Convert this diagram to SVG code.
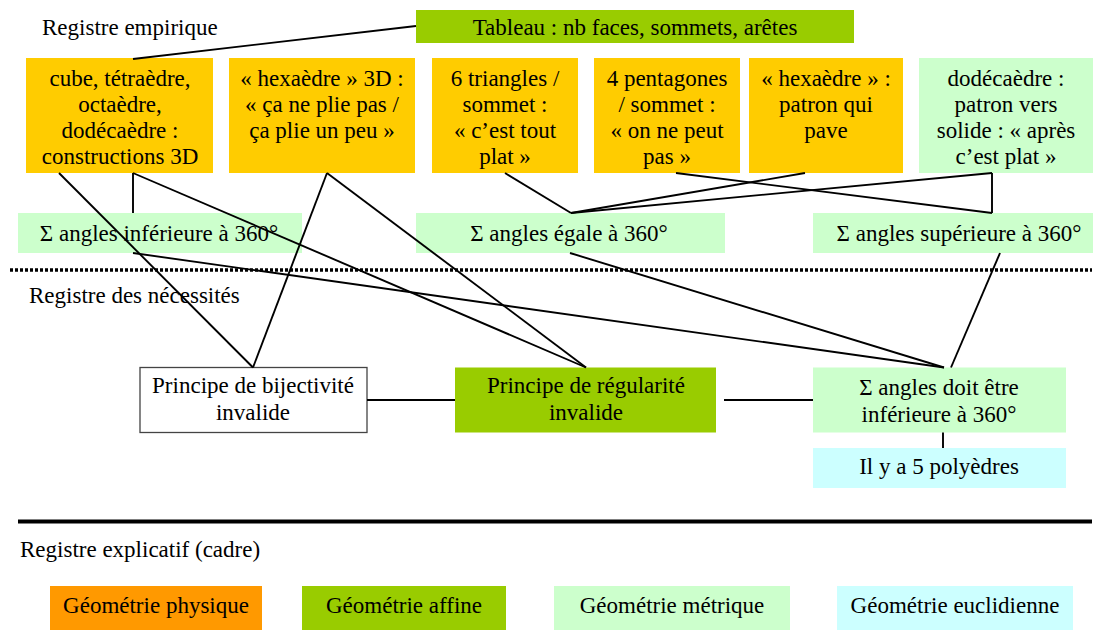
<svg xmlns="http://www.w3.org/2000/svg" width="1094" height="630" viewBox="0 0 1094 630" font-family="'Liberation Serif', 'Times New Roman', Times, serif" font-size="23">
<style>
text{fill:#000}
.c{text-anchor:middle}
.y{fill:#FFCC00}
.g{fill:#99CC00}
.m{fill:#CCFFCC}
.e{fill:#CCFFFF}
.o{fill:#FF9900}
.w{fill:#fff;stroke:#444;stroke-width:1.3}
#connectors line{stroke:#000;stroke-width:1.9;fill:none}
</style>
<rect width="1094" height="630" fill="#fff"/>

<!-- register labels and separators -->
<text x="42" y="35">Registre empirique</text>
<line x1="10" y1="270" x2="1092" y2="270" stroke="#000" stroke-width="3.5" stroke-dasharray="3 2"/>
<text x="29" y="303">Registre des nécessités</text>
<line x1="18" y1="521.5" x2="1092" y2="521.5" stroke="#000" stroke-width="4"/>
<text x="20" y="557">Registre explicatif (cadre)</text>

<g id="tableau"><rect class="g" x="416" y="10" width="438" height="33"/><text class="c" x="635" y="35">Tableau : nb faces, sommets, arêtes</text></g>

<g id="box1"><rect class="y" x="26" y="58" width="187" height="115"/>
<text class="c" x="120" y="85.5">cube, tétraèdre,</text><text class="c" x="120" y="111.5">octaèdre,</text><text class="c" x="120" y="137.5">dodécaèdre :</text><text class="c" x="120" y="163.5">constructions 3D</text></g>

<g id="box2"><rect class="y" x="229" y="58" width="186" height="115"/>
<text class="c" x="322" y="85.5">« hexaèdre » 3D :</text><text class="c" x="322" y="111.5">« ça ne plie pas /</text><text class="c" x="322" y="137.5">ça plie un peu »</text></g>

<g id="box3"><rect class="y" x="432" y="58" width="146" height="115"/>
<text class="c" x="505" y="85.5">6 triangles /</text><text class="c" x="505" y="111.5">sommet :</text><text class="c" x="505" y="137.5">« c’est tout</text><text class="c" x="505" y="163.5">plat »</text></g>

<g id="box4"><rect class="y" x="594" y="58" width="146" height="115"/>
<text class="c" x="667" y="85.5">4 pentagones</text><text class="c" x="667" y="111.5">/ sommet :</text><text class="c" x="667" y="137.5">« on ne peut</text><text class="c" x="667" y="163.5">pas »</text></g>

<g id="box5"><rect class="y" x="749" y="58" width="154" height="115"/>
<text class="c" x="826" y="85.5">« hexaèdre » :</text><text class="c" x="826" y="111.5">patron qui</text><text class="c" x="826" y="137.5">pave</text></g>

<g id="box6"><rect class="m" x="919" y="58" width="174" height="115"/>
<text class="c" x="1006" y="85.5">dodécaèdre :</text><text class="c" x="1006" y="111.5">patron vers</text><text class="c" x="1006" y="137.5">solide : « après</text><text class="c" x="1006" y="163.5">c’est plat »</text></g>

<g id="sigma1"><rect class="m" x="18" y="213" width="284" height="40"/><text class="c" x="159" y="241">Σ angles inférieure à 360°</text></g>
<g id="sigma2"><rect class="m" x="416" y="213" width="309" height="40"/><text class="c" x="569" y="241">Σ angles égale à 360°</text></g>
<g id="sigma3"><rect class="m" x="813" y="213" width="280" height="40"/><text class="c" x="959" y="241">Σ angles supérieure à 360°</text></g>

<g id="bijectivite"><rect class="w" x="140" y="367.5" width="227" height="65"/>
<text class="c" x="253" y="393">Principe de bijectivité</text><text class="c" x="253" y="420">invalide</text></g>
<g id="regularite"><rect class="g" x="455" y="367.5" width="261" height="65"/>
<text class="c" x="586" y="393">Principe de régularité</text><text class="c" x="586" y="420">invalide</text></g>
<g id="sigmadoit"><rect class="m" x="813" y="367.5" width="253" height="65"/>
<text class="c" x="939" y="395">Σ angles doit être</text><text class="c" x="939" y="421.5">inférieure à 360°</text></g>
<g id="cinq"><rect class="e" x="813" y="448" width="253" height="40"/><text class="c" x="939" y="473.5">Il y a 5 polyèdres</text></g>

<g id="leg-physique"><rect class="o" x="50" y="586" width="212" height="44"/><text class="c" x="156" y="613">Géométrie physique</text></g>
<g id="leg-affine"><rect class="g" x="302" y="586" width="204" height="44"/><text class="c" x="404" y="613">Géométrie affine</text></g>
<g id="leg-metrique"><rect class="m" x="554" y="586" width="236" height="44"/><text class="c" x="672" y="613">Géométrie métrique</text></g>
<g id="leg-euclidienne"><rect class="e" x="837" y="586" width="236" height="44"/><text class="c" x="955" y="613">Géométrie euclidienne</text></g>

<g id="connectors">
<line x1="133" y1="59" x2="416" y2="26"/>
<line x1="133" y1="173" x2="133" y2="213"/>
<line x1="133" y1="173" x2="586" y2="367.5"/>
<line x1="59" y1="173" x2="253" y2="367.5"/>
<line x1="327" y1="173" x2="253" y2="367.5"/>
<line x1="327" y1="173" x2="586" y2="367.5"/>
<line x1="133" y1="253" x2="944" y2="367.5"/>
<line x1="505" y1="173" x2="571" y2="213"/>
<line x1="805" y1="173" x2="571" y2="213"/>
<line x1="992" y1="173" x2="571" y2="213"/>
<line x1="676" y1="173" x2="992" y2="213"/>
<line x1="992" y1="173" x2="992" y2="213"/>
<line x1="570" y1="253" x2="944" y2="367.5"/>
<line x1="1000" y1="253" x2="951" y2="367.5"/>
<line x1="367" y1="400" x2="455" y2="400"/>
<line x1="724" y1="400" x2="813" y2="400"/>
<line x1="943" y1="432.5" x2="943" y2="448"/>
</g>
</svg>
